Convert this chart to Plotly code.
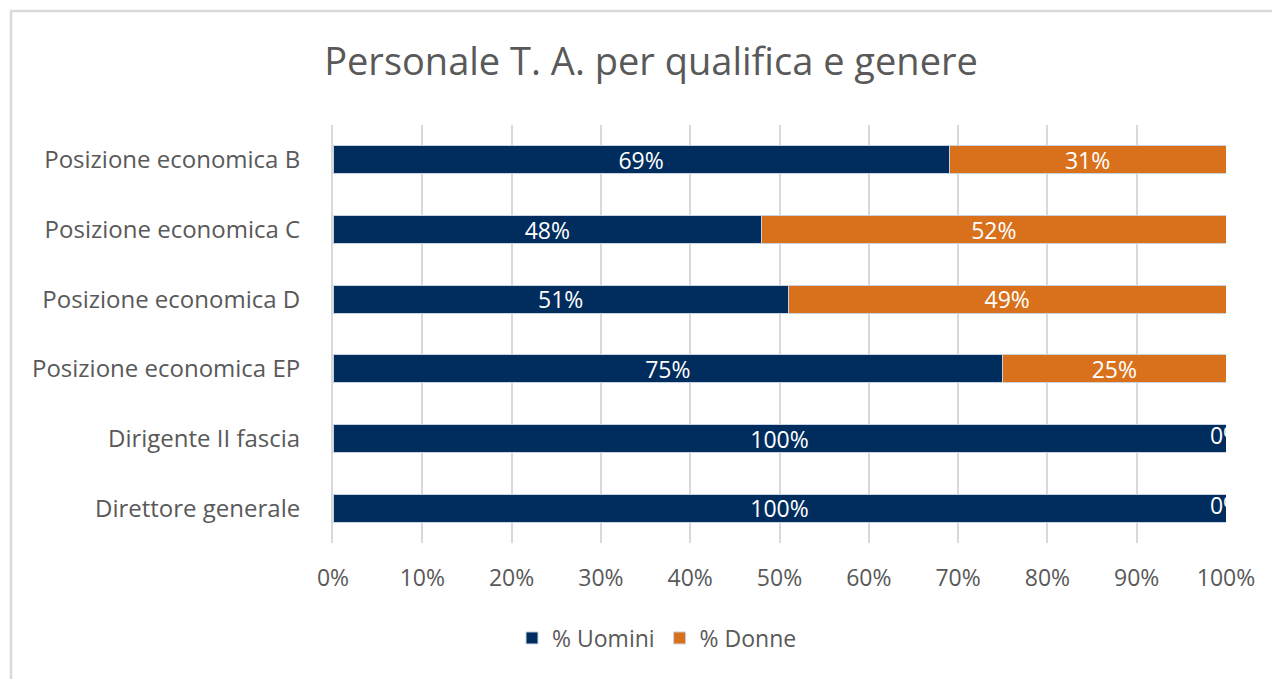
import plotly.graph_objects as go

# ==========================================================
# DATA
# ==========================================================
categories = [
    "Posizione economica B",
    "Posizione economica C",
    "Posizione economica D",
    "Posizione economica EP",
    "Dirigente II fascia",
    "Direttore generale",
]
uomini = [69, 48, 51, 75, 100, 100]
donne = [31, 52, 49, 25, 0, 0]
x_ticks = [0, 10, 20, 30, 40, 50, 60, 70, 80, 90, 100]

NAVY = "#002C5E"
ORANGE = "#D9711C"
GREY = "#595959"
FONT = "Open Sans"

# page body has an 8px margin, so figure coords are screen coords - 8
W, H = 1272, 671

fig = go.Figure()

fig.add_trace(go.Bar(
    y=categories, x=uomini, orientation="h", name="% Uomini",
    marker=dict(color=NAVY, line=dict(color="#c9d3e0", width=1)),
    text=[f"{v}%" for v in uomini], textposition="inside",
    insidetextanchor="middle", textangle=0, constraintext="none",
    textfont=dict(color="white", size=23, family=FONT),
))
fig.add_trace(go.Bar(
    y=categories, x=donne, orientation="h", name="% Donne",
    marker=dict(color=ORANGE, line=dict(color="#c9d3e0", width=1)),
    text=[f"{v}%" for v in donne], textposition="inside",
    insidetextanchor="middle", textangle=0, constraintext="none",
    textfont=dict(color="white", size=23, family=FONT),
))

# zero-width segments: label still sits at the segment position, clipped by the axis
zero_y = [c for c, d in zip(categories, donne) if d == 0]
zero_x = [u + d for u, d in zip(uomini, donne) if d == 0]
fig.add_trace(go.Scatter(
    y=zero_y, x=zero_x, mode="text", text=["0%"] * len(zero_y),
    textfont=dict(color="white", size=23, family=FONT),
    textposition="middle center", cliponaxis=True,
    showlegend=False, hoverinfo="skip",
))

fig.update_layout(
    barmode="stack",
    bargap=0.6,
    width=W, height=H,
    margin=dict(l=325, r=W - 1218, t=117, b=H - 535),
    paper_bgcolor="white",
    plot_bgcolor="white",
    font=dict(family=FONT, color=GREY, size=23),
    title=dict(
        text="Personale T. A. per qualifica e genere",
        x=643 / W, xanchor="center", xref="container",
        y=1 - 54 / H, yanchor="middle", yref="container",
        font=dict(size=38, color=GREY, family=FONT),
    ),
    legend=dict(
        orientation="h", x=649 / W, xanchor="center", xref="container",
        y=1 - 630 / H, yanchor="middle", yref="container",
        font=dict(size=23, color=GREY, family=FONT),
        traceorder="normal", itemwidth=30,
    ),
    shapes=[dict(
        type="rect", xref="paper", yref="paper",
        x0=-0.3606, x1=1.08, y0=-0.36, y1=1.2727,
        line=dict(color="#d9d9d9", width=2.5), layer="below",
    )],
)

fig.update_xaxes(
    range=[0, 100],
    tickvals=x_ticks,
    ticktext=[f"{t}%" for t in x_ticks],
    showgrid=True, gridcolor="#d9d9d9", gridwidth=2,
    zeroline=False, showline=False,
    ticklabelstandoff=19,
    tickfont=dict(size=23, color=GREY, family=FONT),
    fixedrange=True,
)
fig.update_yaxes(
    autorange="reversed",
    showgrid=False, zeroline=False,
    showline=True, linecolor="#d9d9d9", linewidth=2,
    ticklabelstandoff=26,
    tickfont=dict(size=24, color=GREY, family=FONT),
    fixedrange=True,
)

fig.write_html("out.html")
